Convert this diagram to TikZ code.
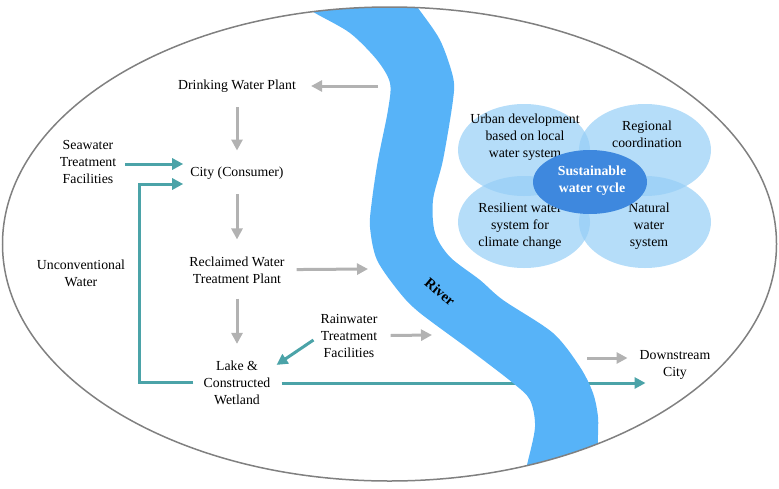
\documentclass[tikz,border=0pt]{standalone}
\usepackage{fontspec}
\setmainfont{Liberation Serif}
\usetikzlibrary{arrows.meta,calc}

\definecolor{rivercol}{RGB}{87,179,248}
\definecolor{arrowgray}{RGB}{178,178,178}
\definecolor{tealcol}{RGB}{75,163,168}
\definecolor{ringgray}{RGB}{128,128,128}
\definecolor{bubble}{RGB}{149,206,246}
\definecolor{corecol}{RGB}{62,136,222}

\tikzset{
  txt/.style={align=center, inner sep=3pt, font=\fontsize{13.8}{17}\selectfont},
  grayarrow/.style={draw=arrowgray, line width=3pt, -{Triangle[length=11pt,width=11pt]}},
  tealarrow/.style={draw=tealcol, line width=3pt, -{Triangle[length=11pt,width=11pt]}},
  bubblefill/.style={fill=bubble, opacity=0.7},
}

\begin{document}
\begin{tikzpicture}[x=1pt, y=-1pt]
    \useasboundingbox (0,0) rectangle (779,488);

    % Nodes of the water chain
    \node[txt] (drink)   at (237,86)  {Drinking Water Plant};
    \node[txt] (city)    at (237,173) {City (Consumer)};
    \node[txt] (reclaim) at (237,270) {Reclaimed Water\\Treatment Plant};
    \node[txt] (lake)    at (237,383) {Lake \&\\Constructed\\Wetland};
    \node[txt] (rain)    at (349,336) {Rainwater\\Treatment\\Facilities};
    \node[txt] (sea)     at (88,162)  {Seawater\\Treatment\\Facilities};
    \node[txt] (unconv)  at (81,273)  {Unconventional\\Water};
    \node[txt] (down)    at (675,365) {Downstream\\City};

    % Teal flows (under the river)
    \draw[tealarrow] ($(sea.east)+(6,2)$) -- ($(city.west)+(-4,-9)$);
    \draw[tealarrow] ($(lake.west)+(-7,-1)$) -| ($(city.west)+(-48,11)$) -- ($(city.west)+(-4,11)$);
    \draw[tealarrow] ($(rain.west)+(-4,4)$) -- ($(lake.north east)+(3,7)$);
    \draw[tealarrow] ($(lake.east)+(8,0)$) -- ($(lake.east -| down.west)+(9,0)$);

    % River
    \begin{scope}
        \clip (389.5,244) ellipse [x radius=387pt, y radius=237pt];
        \fill[rivercol] plot[smooth] coordinates {(290,-3) (315,13) (350,33) (377,60) (390,83) (388,110)
            (378,160) (372,200) (370,227) (377,260) (400,293) (420,313) (470,350) (513,383)
            (530,400) (535,427) (527,465) (520,495)}
            -- plot[smooth] coordinates {(600,495) (598,443) (598,417) (593,393) (580,367) (553,333)
            (503,300) (480,280) (450,257) (435,233) (433,200) (443,160) (453,100) (453,77)
            (440,40) (418,8) (410,-3)}
            -- cycle;
    \end{scope}
    \node[txt, font=\fontsize{14.5}{17}\bfseries, rotate=-40] (rivername) at (440,292) {River};

    % Outer boundary
    \draw[ringgray, line width=1.5pt] (389.5,244) ellipse [x radius=387pt, y radius=237pt];

    % Gray flows
    \coordinate (intake)  at (378,86);
    \coordinate (outfall) at (368,269);
    \coordinate (runoff)  at (432,335);
    \coordinate (onward)  at (587,358);
    \draw[grayarrow, shorten >=12pt] (intake) -- (drink);
    \draw[grayarrow, shorten <=12pt, shorten >=13pt] (drink) -- (city);
    \draw[grayarrow, shorten <=12pt, shorten >=14pt] (city) -- (reclaim);
    \draw[grayarrow, shorten <=12pt, shorten >=14pt] (reclaim) -- (lake);
    \draw[grayarrow, shorten <=9pt] (reclaim) -- (outfall);
    \draw[grayarrow, shorten <=10pt] (rain) -- (runoff);
    \draw[grayarrow, shorten >=9pt] (onward) -- (onward -| down.west);

    % Sustainable water cycle
    \fill[bubblefill] (524,150) ellipse [x radius=66pt, y radius=46pt];
    \fill[bubblefill] (645,150) ellipse [x radius=66pt, y radius=46pt];
    \fill[bubblefill] (524,222) ellipse [x radius=66pt, y radius=46pt];
    \fill[bubblefill] (645,222) ellipse [x radius=66pt, y radius=46pt];
    \node[txt] (urban)   at (525,137)   {Urban development\\based on local\\water system};
    \node[txt] (region)  at (647,134.5) {Regional\\coordination};
    \node[txt] (resil)   at (520,226)   {Resilient water\\system for\\climate change};
    \node[txt] (natural) at (649,226)   {Natural\\water\\system};
    \fill[corecol] (590,182) ellipse [x radius=57pt, y radius=32pt];
    \node[txt, text=white, font=\fontsize{13.8}{17}\bfseries] (core) at (592,181) {Sustainable\\water cycle};
\end{tikzpicture}
\end{document}
